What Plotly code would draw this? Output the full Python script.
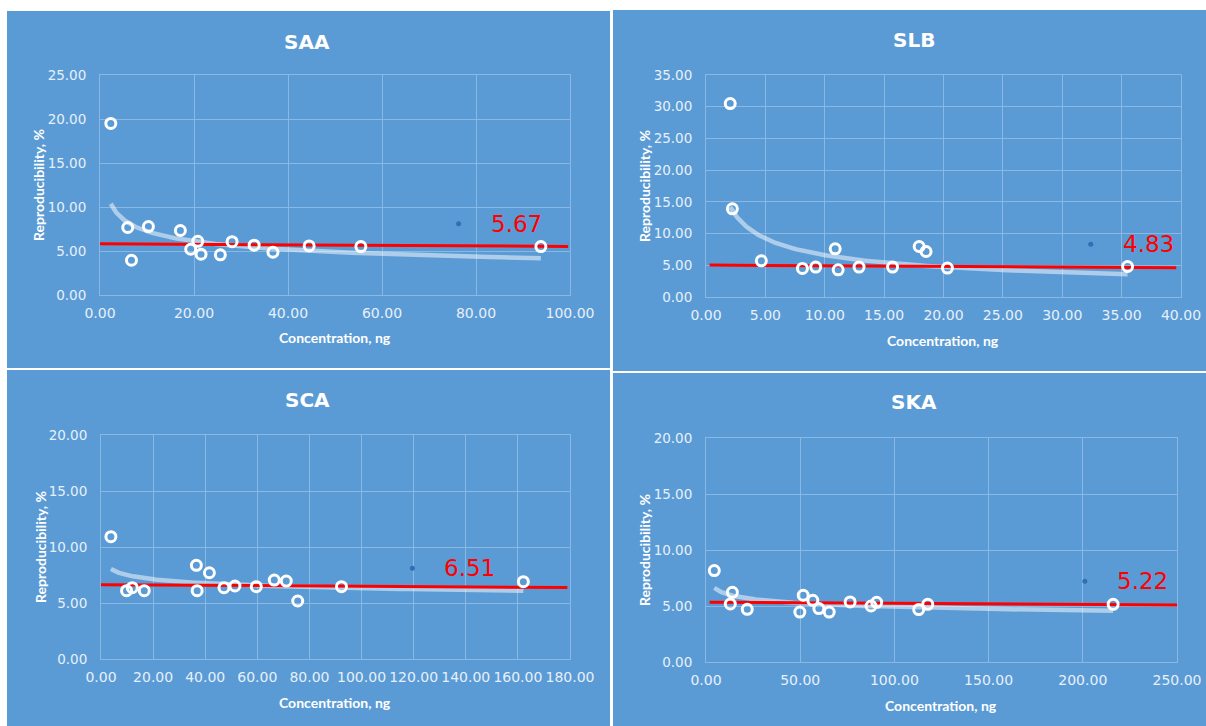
import numpy as np
import plotly.graph_objects as go

# ---- data: concentration (ng) vs reproducibility (%) ----
saa_x = [2.3, 5.9, 6.7, 10.3, 17.1, 19.3, 20.8, 21.5, 25.6, 28.1, 32.8, 36.8, 44.5, 55.5, 93.8]
saa_y = [19.5, 7.67, 3.95, 7.78, 7.33, 5.2, 6.1, 4.63, 4.56, 6.06, 5.66, 4.86, 5.58, 5.5, 5.5]

slb_x = [2.04, 2.22, 4.66, 8.12, 9.24, 10.88, 11.13, 12.89, 15.71, 17.95, 18.53, 20.33, 35.5]
slb_y = [30.5, 13.9, 5.71, 4.5, 4.72, 7.6, 4.29, 4.72, 4.72, 7.96, 7.17, 4.56, 4.81]

sca_x = [3.8, 9.8, 12.0, 16.6, 36.6, 36.9, 41.6, 47.2, 51.4, 59.6, 66.5, 71.1, 75.5, 92.3, 162.1]
sca_y = [10.92, 6.1, 6.37, 6.1, 8.36, 6.1, 7.7, 6.37, 6.52, 6.46, 7.05, 6.96, 5.18, 6.46, 6.9]

ska_x = [4.4, 12.9, 14.0, 21.9, 49.8, 51.6, 56.7, 59.9, 65.4, 76.5, 87.6, 90.6, 112.9, 117.7, 216.1]
ska_y = [8.16, 5.18, 6.22, 4.7, 4.46, 5.96, 5.51, 4.77, 4.46, 5.36, 5.0, 5.33, 4.68, 5.15, 5.15]

# average reproducibility per analyte (red level line + label)
mean_rsd = {"SAA": 5.67, "SLB": 4.83, "SCA": 6.51, "SKA": 5.22}
# red level line: x extent and total drop across it
level_x = {"SAA": [0.0, 99.6], "SLB": [0.3, 39.6], "SCA": [0.0, 179.0], "SKA": [1.9, 250.0]}
level_drop = {"SAA": 0.30, "SLB": 0.40, "SCA": 0.25, "SKA": 0.24}
# anchor point carrying the average label
label_pt = {"SAA": (76.3, 8.09), "SLB": (32.4, 8.33), "SCA": (119.5, 8.1), "SKA": (201.1, 7.2)}

x_ranges = {"SAA": (100, 20), "SLB": (40, 5), "SCA": (180, 20), "SKA": (250, 50)}
y_ranges = {"SAA": 25, "SLB": 35, "SCA": 20, "SKA": 20}

series = {"SAA": (saa_x, saa_y), "SLB": (slb_x, slb_y), "SCA": (sca_x, sca_y), "SKA": (ska_x, ska_y)}

# ---- layout geometry (pixels) ----
W, H = 1206, 726
panels = {   # panel box x0, x1, y0, y1
    "SAA": (7, 610, 11, 368),
    "SLB": (613, 1206, 10, 371),
    "SCA": (7, 610, 370, 726),
    "SKA": (613, 1206, 373, 726),
}
plots = {    # plot area x0, x1, y0(top), y1(bottom)
    "SAA": (100, 570, 75, 295),
    "SLB": (706, 1181, 75, 297),
    "SCA": (101, 570, 435, 659),
    "SKA": (706, 1177, 438, 662),
}
title_pos = {"SAA": (307, 42), "SLB": (914, 40), "SCA": (307, 400), "SKA": (914, 402)}
xtitle_pos = {"SAA": (335, 338), "SLB": (943, 340), "SCA": (335, 702), "SKA": (941, 705)}
ytitle_x = {"SAA": 38, "SLB": 644, "SCA": 40, "SKA": 644}

BG = "#5B9BD5"
GRID = "#8AB8E3"
TICK = "#E6F0FA"
TREND = "rgba(255,255,255,0.5)"

def px(x):
    return x / W

def py(y):
    return 1 - y / H

fig = go.Figure()
shapes = []
annotations = []
layout_axes = {}

for i, name in enumerate(["SAA", "SLB", "SCA", "SKA"]):
    n = "" if i == 0 else str(i + 1)
    xa, ya = "x" + n, "y" + n
    xs, ys = series[name]

    # panel background
    bx0, bx1, by0, by1 = panels[name]
    shapes.append(dict(type="rect", xref="paper", yref="paper", layer="below",
                       x0=px(bx0), x1=px(bx1), y0=py(by1), y1=py(by0),
                       fillcolor=BG, line=dict(width=0)))

    # power trendline fitted to the points
    b, ln_a = np.polyfit(np.log(xs), np.log(ys), 1)
    tx = np.geomspace(min(xs), max(xs), 120)
    ty = np.exp(ln_a) * tx ** b
    fig.add_trace(go.Scatter(x=tx, y=ty, mode="lines", xaxis=xa, yaxis=ya,
                             line=dict(color=TREND, width=4.5), hoverinfo="skip"))

    # red average level
    m = mean_rsd[name]
    d = level_drop[name]
    fig.add_trace(go.Scatter(x=level_x[name], y=[m + d / 2, m - d / 2], mode="lines",
                             xaxis=xa, yaxis=ya, line=dict(color="#FF0000", width=3)))

    # measured points
    fig.add_trace(go.Scatter(x=xs, y=ys, mode="markers", xaxis=xa, yaxis=ya,
                             marker=dict(symbol="circle-open", size=10,
                                         line=dict(color="white", width=3), color="white")))

    # label anchor point
    lx, ly = label_pt[name]
    fig.add_trace(go.Scatter(x=[lx], y=[ly], mode="markers", xaxis=xa, yaxis=ya,
                             marker=dict(size=5, color="#2F6FB3")))
    annotations.append(dict(x=lx, y=ly, xref=xa, yref=ya, text=f"{m:.2f}", showarrow=False,
                            xanchor="left", yanchor="middle", xshift=30,
                            font=dict(family="DejaVu Sans", size=23, color="#FF0000")))

    # axes
    x0, x1, y0, y1 = plots[name]
    xmax, xstep = x_ranges[name]
    common = dict(showgrid=True, gridcolor=GRID, gridwidth=1, zeroline=False,
                  showline=True, linecolor=GRID, linewidth=1, mirror=True,
                  ticks="", tickformat=".2f", fixedrange=True, automargin=False)
    layout_axes["xaxis" + n] = dict(common, domain=[px(x0), px(x1)], anchor=ya,
                                    range=[0, xmax], dtick=xstep, tick0=0, tickangle=0,
                                    ticklabelstandoff=5,
                                    tickfont=dict(family="DejaVu Sans", size=14, color=TICK))
    layout_axes["yaxis" + n] = dict(common, domain=[py(y1), py(y0)], anchor=xa,
                                    range=[0, y_ranges[name]], dtick=5, tick0=0,
                                    ticklabelstandoff=10,
                                    tickfont=dict(family="DejaVu Sans", size=13.5, color=TICK))

    # titles
    tx_, ty_ = title_pos[name]
    annotations.append(dict(x=px(tx_), y=py(ty_), xref="paper", yref="paper", text=f"<b>{name}</b>",
                            showarrow=False, xanchor="center", yanchor="middle",
                            font=dict(family="DejaVu Sans", size=20, color="white")))
    ax_, ay_ = xtitle_pos[name]
    annotations.append(dict(x=px(ax_), y=py(ay_), xref="paper", yref="paper",
                            text="<b>Concentration, ng</b>", showarrow=False,
                            xanchor="center", yanchor="middle",
                            font=dict(family="Lato", size=14, color="white")))
    annotations.append(dict(x=px(ytitle_x[name]), y=py((y0 + y1) / 2), xref="paper", yref="paper",
                            text="<b>Reproducibility, %</b>", showarrow=False, textangle=-90,
                            xanchor="center", yanchor="middle",
                            font=dict(family="Lato", size=14, color="white")))

fig.update_layout(width=W, height=H, autosize=False, margin=dict(l=0, r=0, t=0, b=0),
                  paper_bgcolor="white", plot_bgcolor="rgba(0,0,0,0)", showlegend=False,
                  shapes=shapes, annotations=annotations, **layout_axes)

fig.write_html("out.html", config={"displayModeBar": False})
